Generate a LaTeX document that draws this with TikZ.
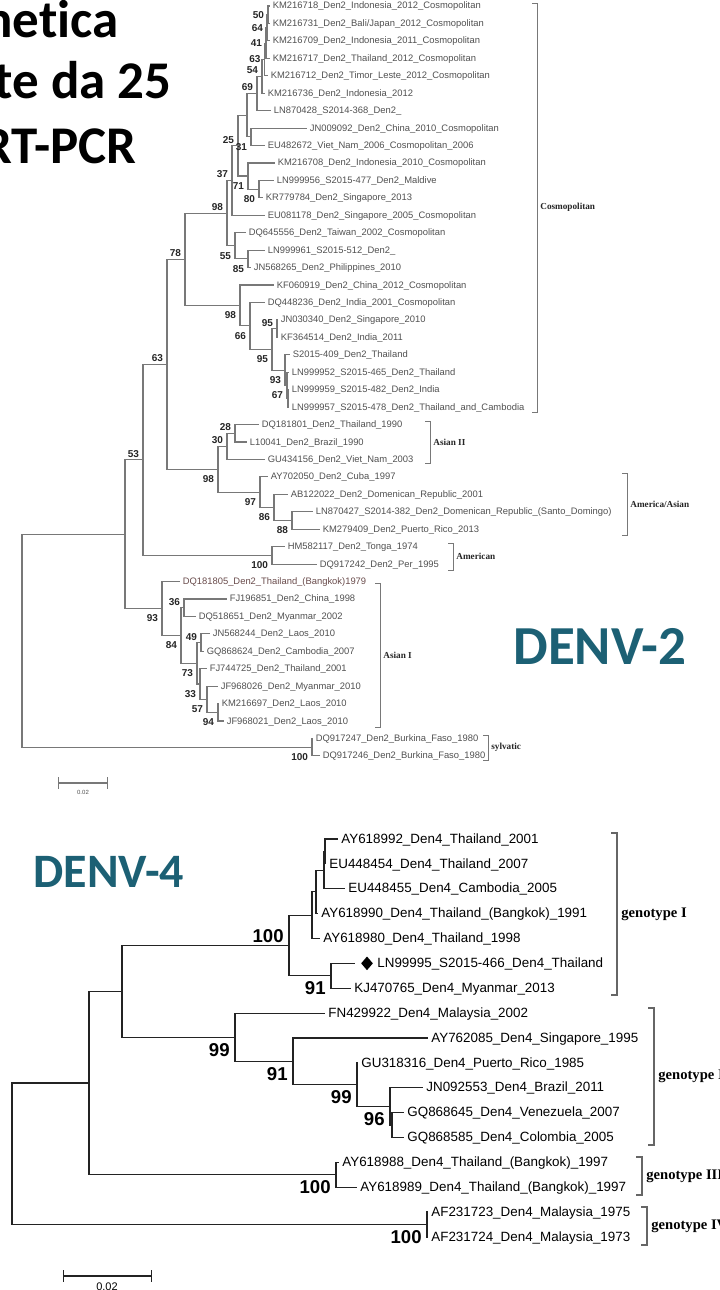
\documentclass[tikz,border=0pt]{standalone}
\usepackage{fontspec}
\setmainfont{Liberation Sans}
\newfontfamily\calibri[Ligatures=NoCommon]{Carlito}
\newfontfamily\cladefont{Liberation Serif}
\usetikzlibrary{shapes.geometric}
\definecolor{denvteal}{RGB}{28,96,116}
\definecolor{treegray}{RGB}{120,120,120}
\definecolor{labgray}{RGB}{80,80,80}
\definecolor{treedark}{RGB}{35,35,35}
\definecolor{oldred}{RGB}{105,75,75}

\begin{document}
\begin{tikzpicture}[x=0.5pt,y=-0.5pt,
  title/.style={anchor=base east,inner sep=0pt,font=\calibri\bfseries\fontsize{26.5}{26.5}\selectfont},
  denv/.style={anchor=base west,inner sep=0pt,text=denvteal},
  leaftwo/.style={anchor=west,inner sep=1.2pt,text height=3.4pt,text depth=0.4pt,text=labgray,font=\fontsize{4.7}{5}\selectfont},
  leaffour/.style={anchor=west,inner sep=1.5pt,text height=4.8pt,text depth=0.6pt,text=black,font=\fontsize{6.7}{7}\selectfont},
  brtwo/.style={draw=treegray,line width=0.55pt},
  brfour/.style={draw=treedark,line width=0.6pt},
  bsu/.style={anchor=east,inner sep=0pt,xshift=-1.8pt,yshift=3pt,text=black!85,font=\bfseries\fontsize{5}{5}\selectfont},
  bsm/.style={anchor=east,inner sep=0pt,xshift=-1.8pt,text=black!85,font=\bfseries\fontsize{5}{5}\selectfont},
  bsl/.style={anchor=east,inner sep=0pt,xshift=-1.8pt,yshift=-5pt,text=black!85,font=\bfseries\fontsize{5}{5}\selectfont},
  bsufour/.style={anchor=east,inner sep=0pt,xshift=-2.5pt,yshift=4.8pt,font=\bfseries\fontsize{9.3}{9.3}\selectfont},
  bslfour/.style={anchor=east,inner sep=0pt,xshift=-2.5pt,yshift=-6.3pt,font=\bfseries\fontsize{9.3}{9.3}\selectfont},
  cladetwo/.style={anchor=west,inner sep=0pt,text=black!85,font=\cladefont\bfseries\fontsize{4.6}{5}\selectfont},
  cladefour/.style={anchor=west,inner sep=0pt,font=\cladefont\bfseries\fontsize{7.3}{8}\selectfont},
  brktwo/.style={draw=treegray,line width=0.5pt},
  brkfour/.style={draw=black!60,line width=0.6pt}]
\useasboundingbox (0,0) rectangle (719,1290);
\clip (0,0) rectangle (719,1290);

\node[title] (t1) at (119,38) {netica};
\node[title] (t2) at (172,98) {te da 25};
\node[title] (t3) at (137,163) {RT-PCR};
\node[denv,font=\calibri\bfseries\fontsize{27.5}{27.5}\selectfont] (denvtwo) at (513,664) {DENV-2};
\node[denv,font=\calibri\bfseries\fontsize{24}{24}\selectfont] (denvfour) at (33,887) {DENV-4};

\foreach \i/\xx/\txt in {
  0/270/{KM216718\_Den2\_Indonesia\_2012\_Cosmopolitan},
  1/270/{KM216731\_Den2\_Bali/Japan\_2012\_Cosmopolitan},
  2/270/{KM216709\_Den2\_Indonesia\_2011\_Cosmopolitan},
  3/270/{KM216717\_Den2\_Thailand\_2012\_Cosmopolitan},
  4/268/{KM216712\_Den2\_Timor\_Leste\_2012\_Cosmopolitan},
  5/265/{KM216736\_Den2\_Indonesia\_2012},
  6/271/{LN870428\_S2014-368\_Den2\_},
  7/307/{JN009092\_Den2\_China\_2010\_Cosmopolitan},
  8/265/{EU482672\_Viet\_Nam\_2006\_Cosmopolitan\_2006},
  9/275/{KM216708\_Den2\_Indonesia\_2010\_Cosmopolitan},
  10/274/{LN999956\_S2015-477\_Den2\_Maldive},
  11/263/{KR779784\_Den2\_Singapore\_2013},
  12/265/{EU081178\_Den2\_Singapore\_2005\_Cosmopolitan},
  13/246/{DQ645556\_Den2\_Taiwan\_2002\_Cosmopolitan},
  14/265/{LN999961\_S2015-512\_Den2\_},
  15/251/{JN568265\_Den2\_Philippines\_2010},
  16/274/{KF060919\_Den2\_China\_2012\_Cosmopolitan},
  17/265/{DQ448236\_Den2\_India\_2001\_Cosmopolitan},
  18/278/{JN030340\_Den2\_Singapore\_2010},
  19/278/{KF364514\_Den2\_India\_2011},
  20/290/{S2015-409\_Den2\_Thailand},
  21/289/{LN999952\_S2015-465\_Den2\_Thailand},
  22/289/{LN999959\_S2015-482\_Den2\_India},
  23/289/{LN999957\_S2015-478\_Den2\_Thailand\_and\_Cambodia},
  24/259/{DQ181801\_Den2\_Thailand\_1990},
  25/247/{L10041\_Den2\_Brazil\_1990},
  26/265/{GU434156\_Den2\_Viet\_Nam\_2003},
  27/268/{AY702050\_Den2\_Cuba\_1997},
  28/288/{AB122022\_Den2\_Domenican\_Republic\_2001},
  29/313/{LN870427\_S2014-382\_Den2\_Domenican\_Republic\_(Santo\_Domingo)},
  30/320/{KM279409\_Den2\_Puerto\_Rico\_2013},
  31/285/{HM582117\_Den2\_Tonga\_1974},
  32/317/{DQ917242\_Den2\_Per\_1995},
  34/227/{FJ196851\_Den2\_China\_1998},
  35/196/{DQ518651\_Den2\_Myanmar\_2002},
  36/210/{JN568244\_Den2\_Laos\_2010},
  37/204/{GQ868624\_Den2\_Cambodia\_2007},
  38/207/{FJ744725\_Den2\_Thailand\_2001},
  39/218/{JF968026\_Den2\_Myanmar\_2010},
  40/219/{KM216697\_Den2\_Laos\_2010},
  41/224/{JF968021\_Den2\_Laos\_2010},
  42/313/{DQ917247\_Den2\_Burkina\_Faso\_1980},
  43/320/{DQ917246\_Den2\_Burkina\_Faso\_1980}}
  \node[leaftwo] (l\i) at (\xx,{6+17.44*\i}) {\txt};
\node[leaftwo,text=oldred] (l33) at (180,581.52) {DQ181805\_Den2\_Thailand\_(Bangkok)1979};

\foreach \cn/\cx/\cy in {n50/268/14.72, n64/267/27.8, n41/266/43.06, n63/264.5/59.41,
  n54/262/76.3, n69/257/93.47, n31/251/136.8, nx/247/115.14, n80/259/189.12,
  n71/248/176.04, n25/238/145.59, n37/232/180.44, n85/248/258.88, n55/235/245.8,
  nz/227/213.12, ny/288/398.4, n67/287/385.32, n93/285/370.06, n95b/277/328.64,
  n95a/272/349.35, n66/250/325.92, n98b/240/305.48, n78/185/259.3, n28/235/433.28,
  n30/227/446.36, n88/292/520.48, n86/274/507.4, n97/260/492.14, n98a/218/469.25,
  n63b/167/364.28, n100a/272/555.36, n53/143/459.82, n94/218/712.32, n57/207/699.24,
  n33/200/683.98, n49/201/642.56, n73/197/663.27, n36/184/607.68, n84/181/635.48,
  n93a/162/608.5, nr2/125/534.16, n100s/312/747.2, root/22/640.68}
  \coordinate (\cn) at (\cx,\cy);

\foreach \p/\c in {n50/l0, n50/l1, n64/n50, n64/l2, n41/n64, n41/l3, n63/n41, n63/l4,
  n54/n63, n54/l5, n69/n54, n69/l6, n31/l7, n31/l8, nx/n69, nx/n31, n80/l10, n80/l11,
  n71/l9, n71/n80, n25/nx, n25/n71, n37/n25, n37/l12, n85/l14, n85/l15, n55/l13, n55/n85,
  nz/n37, nz/n55, ny/l22, ny/l23, n67/l21, n67/ny, n93/l20, n93/n67, n95b/l18, n95b/l19,
  n95a/n95b, n95a/n93, n66/l17, n66/n95a, n98b/l16, n98b/n66, n78/nz, n78/n98b,
  n28/l24, n28/l25, n30/n28, n30/l26, n88/l29, n88/l30, n86/l28, n86/n88, n97/l27, n97/n86,
  n98a/n30, n98a/n97, n63b/n78, n63b/n98a, n100a/l31, n100a/l32, n53/n63b, n53/n100a,
  n94/l40, n94/l41, n57/l39, n57/n94, n33/l38, n33/n57, n49/l36, n49/l37, n73/n49, n73/n33,
  n36/l34, n36/l35, n84/n36, n84/n73, n93a/l33, n93a/n84, nr2/n53, nr2/n93a,
  n100s/l42, n100s/l43, root/nr2, root/n100s}
  \draw[brtwo] (\p) |- (\c);

\foreach \n/\st/\v in {n50/bsm/50, n64/bsm/64, n41/bsm/41, n63/bsm/63, n54/bsu/54,
  n69/bsu/69, n31/bsl/31, n25/bsu/25, n71/bsl/71, n80/bsl/80, n37/bsu/37, nz/bsu/98,
  n55/bsl/55, n85/bsl/85, n78/bsu/78, n98b/bsl/98, n66/bsl/66, n95b/bsu/95, n95a/bsl/95,
  n93/bsl/93, n67/bsl/67, n63b/bsu/63, n28/bsu/28, n30/bsu/30, n98a/bsl/98, n97/bsl/97,
  n86/bsl/86, n88/bsl/88, n53/bsu/53, n100a/bsl/100, n93a/bsl/93, n36/bsu/36, n84/bsl/84,
  n49/bsu/49, n73/bsl/73, n33/bsl/33, n57/bsl/57, n94/bsl/94, n100s/bsl/100}
  \node[\st] (b\n) at (\n) {\v};

\foreach \nm/\bx/\ya/\yb/\txt in {cos/537/3/412/Cosmopolitan, asb/430/421/463/Asian II,
  amas/627/473/535/{America/Asian}, ame/453/543/570/American, asa/380/583/727/Asian I,
  syl/488/735/760/sylvatic}{
  \draw[brktwo] (\bx-5,\ya) -- (\bx,\ya) -- (\bx,\yb) -- (\bx-5,\yb);
  \node[cladetwo] (\nm) at (\bx+3,{(\ya+\yb)/2}) {\txt};
}

\coordinate (sa) at (58,783);
\coordinate (sb) at (108,783);
\draw[brtwo,|-|] (sa) -- (sb);
\node[inner sep=0pt,text=labgray,font=\fontsize{3}{3}\selectfont] (sl) at (83,792) {0.02};

\foreach \i/\xx/\txt in {
  0/338/{AY618992\_Den4\_Thailand\_2001},
  1/326/{EU448454\_Den4\_Thailand\_2007},
  2/345/{EU448455\_Den4\_Cambodia\_2005},
  3/318/{AY618990\_Den4\_Thailand\_(Bangkok)\_1991},
  4/320/{AY618980\_Den4\_Thailand\_1998},
  6/351/{KJ470765\_Den4\_Myanmar\_2013},
  7/325/{FN429922\_Den4\_Malaysia\_2002},
  8/428/{AY762085\_Den4\_Singapore\_1995},
  9/358/{GU318316\_Den4\_Puerto\_Rico\_1985},
  10/423/{JN092553\_Den4\_Brazil\_2011},
  11/404/{GQ868645\_Den4\_Venezuela\_2007},
  12/404/{GQ868585\_Den4\_Colombia\_2005},
  13/339/{AY618988\_Den4\_Thailand\_(Bangkok)\_1997},
  14/357/{AY618989\_Den4\_Thailand\_(Bangkok)\_1997},
  15/428/{AF231723\_Den4\_Malaysia\_1975},
  16/428/{AF231724\_Den4\_Malaysia\_1973}}
  \node[leaffour] (m\i) at (\xx,{839+24.87*\i}) {\txt};
\coordinate (m5tip) at (355,963.35);
\node[diamond,fill=black,inner sep=0pt,minimum width=6pt,minimum height=7pt] (m5dia) at (367,963.35) {};
\node[leaffour] (m5) at (374,963.35) {LN99995\_S2015-466\_Den4\_Thailand};

\foreach \cn/\cx/\cy in {da/325/851.44, db/324/870.09, dc/316/891.85, dd/312/915.17,
  dn91/331/975.79, dg1/289/945.48, dq/392/1125, dn96/390/1106.35, dn99b/357/1084.59,
  dn91b/293/1061.28, dn99/235/1037.19, dg12/122/991.33, dg3/336/1174.75,
  dg123/89/1083.04, dg4/427/1224.49, droot/12/1153.77}
  \coordinate (\cn) at (\cx,\cy);

\foreach \p/\c in {da/m0, da/m1, db/da, db/m2, dc/db, dc/m3, dd/dc, dd/m4,
  dn91/m5tip, dn91/m6, dg1/dd, dg1/dn91, dq/m11, dq/m12, dn96/m10, dn96/dq,
  dn99b/m9, dn99b/dn96, dn91b/m8, dn91b/dn99b, dn99/m7, dn99/dn91b, dg12/dg1, dg12/dn99,
  dg3/m13, dg3/m14, dg123/dg12, dg123/dg3, dg4/m15, dg4/m16, droot/dg123, droot/dg4}
  \draw[brfour] (\p) |- (\c);

\foreach \n/\st/\v in {dg1/bsufour/100, dn91/bslfour/91, dn99/bslfour/99, dn91b/bslfour/91,
  dn99b/bslfour/99, dn96/bslfour/96, dg3/bslfour/100, dg4/bslfour/100}
  \node[\st] (b\n) at (\n) {\v};

\foreach \nm/\bx/\ya/\yb/\txt in {gone/617/833/995/genotype I, gtwo/654/1008/1145/genotype II,
  gthree/642/1157/1195/genotype III, gfour/647/1207/1245/genotype IV}{
  \draw[brkfour] (\bx-6,\ya) -- (\bx,\ya) -- (\bx,\yb) -- (\bx-6,\yb);
  \node[cladefour] (\nm) at (\bx+4,{(\ya+\yb)/2}) {\txt};
}

\coordinate (sc) at (63,1276);
\coordinate (sd) at (152,1276);
\draw[brfour,|-|] (sc) -- (sd);
\node[inner sep=0pt,font=\fontsize{5.5}{5.5}\selectfont] (sdl) at (107,1287) {0.02};
\end{tikzpicture}
\end{document}
